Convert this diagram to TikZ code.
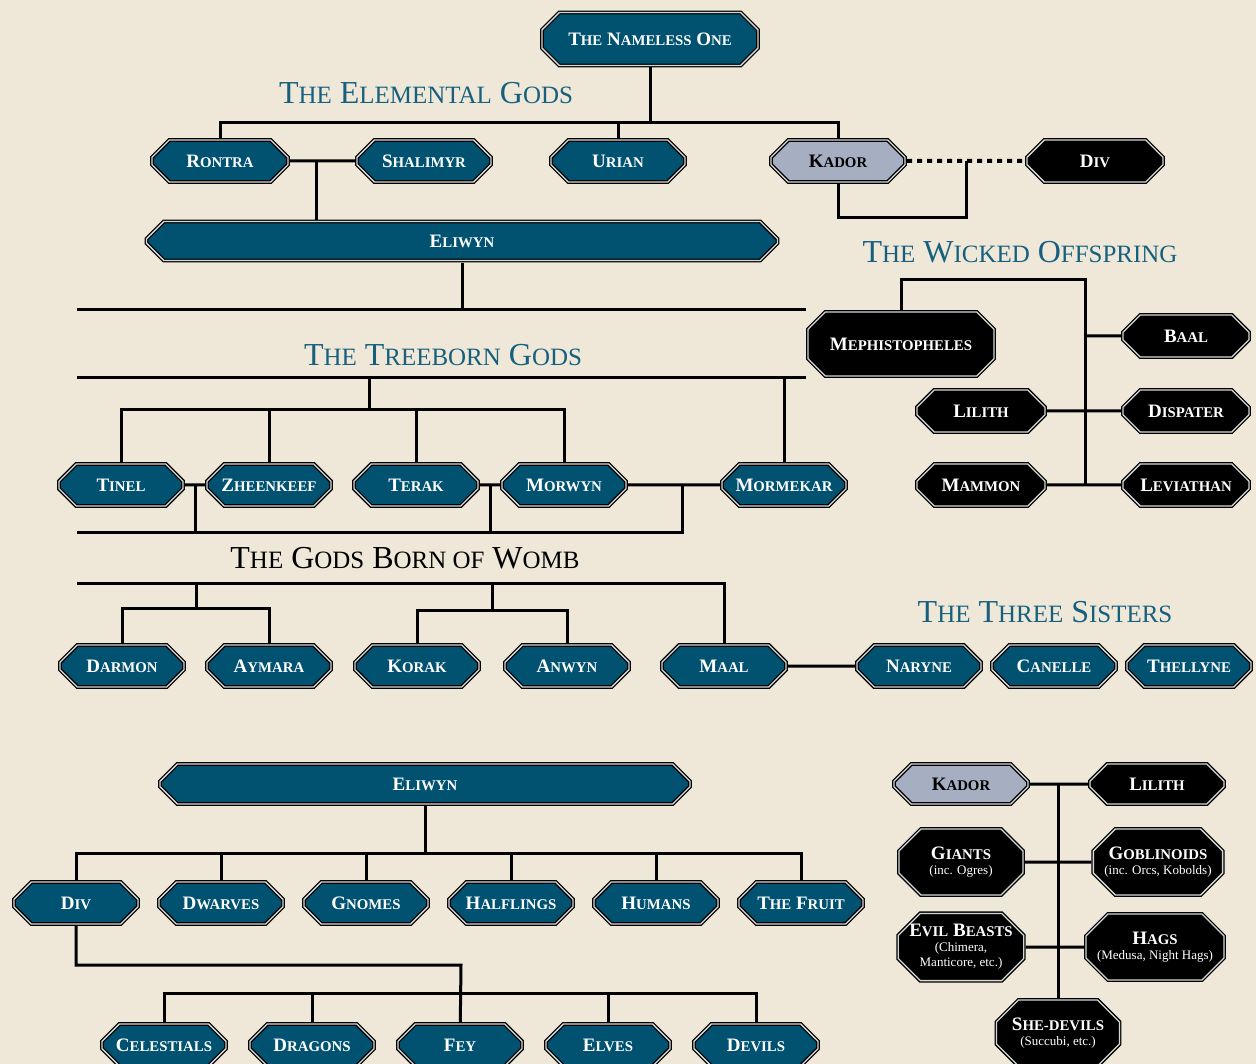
\documentclass[tikz,border=0pt]{standalone}
\usepackage{fontspec}
\setmainfont{Liberation Serif}
\usetikzlibrary{shapes.misc,positioning}

\definecolor{parchment}{RGB}{239,232,217}
\definecolor{godteal}{RGB}{0,82,112}
\definecolor{godgray}{RGB}{166,175,193}
\definecolor{ringlight}{RGB}{212,217,216}
\definecolor{titleteal}{RGB}{22,96,126}

% fake small caps: the rest of a word a bit smaller
\makeatletter
\newcommand{\smc}[1]{{\dimen0=\f@size pt\dimen0=0.78\dimen0\fontsize{\dimen0}{\dimen0}\selectfont#1}}
\makeatother
\newcommand{\subline}[1]{\\[-1pt]{\normalfont\fontsize{13}{14}\selectfont#1}}

\pgfdeclarelayer{paper}
\pgfdeclarelayer{edges}
\pgfsetlayers{paper,edges,main}

\tikzset{
  godbox/.style={chamfered rectangle, chamfered rectangle sep=11pt, inner sep=0pt,
    outer sep=2pt, minimum width=124pt, minimum height=42pt, fill=godteal, draw=black,
    line width=1.3pt, double=ringlight, double distance=1.3pt,
    text=white, align=center, font=\bfseries\fontsize{19}{16}\selectfont},
  fiendbox/.style={godbox, fill=black},
  kadorbox/.style={godbox, fill=godgray, text=black},
  heading/.style={text=titleteal, inner sep=0pt, font=\fontsize{32}{34}\selectfont},
  bond/.style={line width=3pt},
  pact/.style={line width=4pt, dash pattern=on 5pt off 5pt},
}

\begin{document}
\begin{tikzpicture}[x=1pt,y=-1pt]
  \useasboundingbox (0,0) rectangle (1256,1064);
  \begin{pgfonlayer}{paper}
    \fill[parchment] (0,0) rectangle (1256,1064);
  \end{pgfonlayer}

  % the elemental gods
  \node[godbox, minimum width=216pt, minimum height=53pt] (nameless) at (650,39) {T\smc{HE} N\smc{AMELESS} O\smc{NE}};
  \node[heading] (elementaltitle) at (426,93) {T\smc{HE} E\smc{LEMENTAL} G\smc{ODS}};
  \node[godbox, minimum width=136pt] (rontra) at (220,161) {R\smc{ONTRA}};
  \node[godbox, minimum width=134pt] (shalimyr) at (424,161) {S\smc{HALIMYR}};
  \node[godbox, minimum width=134pt] (urian) at (618,161) {U\smc{RIAN}};
  \node[kadorbox, minimum width=134pt] (kador) at (838,161) {K\smc{ADOR}};
  \node[fiendbox, minimum width=136pt] (div) at (1095,161) {D\smc{IV}};
  \node[godbox, minimum width=631pt, minimum height=39pt] (eliwyn) at (462,241) {E\smc{LIWYN}};

  % the wicked offspring
  \node[heading] (wickedtitle) at (1020,252) {T\smc{HE} W\smc{ICKED} O\smc{FFSPRING}};
  \node[fiendbox, minimum width=186pt, minimum height=64pt] (meph) at (901,344) {M\smc{EPHISTOPHELES}};
  \node[fiendbox, minimum width=126pt] (baal) at (1186,336) {B\smc{AAL}};
  \node[fiendbox, minimum width=128pt] (lilith) at (981,411) {L\smc{ILITH}};
  \node[fiendbox, minimum width=126pt] (dispater) at (1186,411) {D\smc{ISPATER}};
  \node[fiendbox, minimum width=128pt] (mammon) at (981,485) {M\smc{AMMON}};
  \node[fiendbox, minimum width=126pt] (leviathan) at (1186,485) {L\smc{EVIATHAN}};

  % the treeborn gods
  \node[heading] (treebornitle) at (443,355) {T\smc{HE} T\smc{REEBORN} G\smc{ODS}};
  \node[godbox] (tinel) at (121,485) {T\smc{INEL}};
  \node[godbox, right=20pt of tinel] (zheenkeef) {Z\smc{HEENKEEF}};
  \node[godbox, right=19pt of zheenkeef] (terak) {T\smc{ERAK}};
  \node[godbox, right=20pt of terak] (morwyn) {M\smc{ORWYN}};
  \node[godbox, right=92pt of morwyn] (mormekar) {M\smc{ORMEKAR}};

  % the gods born of womb
  \node[heading, text=black] (wombtitle) at (405,558) {T\smc{HE} G\smc{ODS} B\smc{ORN OF} W\smc{OMB}};
  \node[godbox] (darmon) at (122,666) {D\smc{ARMON}};
  \node[godbox, right=19pt of darmon] (aymara) {A\smc{YMARA}};
  \node[godbox, right=20pt of aymara] (korak) {K\smc{ORAK}};
  \node[godbox, right=22pt of korak] (anwyn) {A\smc{NWYN}};
  \node[godbox, right=29pt of anwyn] (maal) {M\smc{AAL}};

  % the three sisters
  \node[heading] (sisterstitle) at (1045,612) {T\smc{HE} T\smc{HREE} S\smc{ISTERS}};
  \node[godbox] (naryne) at (919,666) {N\smc{ARYNE}};
  \node[godbox, right=7pt of naryne] (canelle) {C\smc{ANELLE}};
  \node[godbox, right=7pt of canelle] (thellyne) {T\smc{HELLYNE}};

  % children of eliwyn
  \node[godbox, minimum width=530pt, minimum height=40pt] (eliwynkin) at (425,784) {E\smc{LIWYN}};
  \node[godbox] (divkin) at (76,903) {D\smc{IV}};
  \node[godbox, right=17pt of divkin] (dwarves) {D\smc{WARVES}};
  \node[godbox, right=17pt of dwarves] (gnomes) {G\smc{NOMES}};
  \node[godbox, right=17pt of gnomes] (halflings) {H\smc{ALFLINGS}};
  \node[godbox, right=17pt of halflings] (humans) {H\smc{UMANS}};
  \node[godbox, right=17pt of humans] (fruit) {T\smc{HE} F\smc{RUIT}};
  \node[godbox] (celestials) at (164,1045) {C\smc{ELESTIALS}};
  \node[godbox, right=20pt of celestials] (dragons) {D\smc{RAGONS}};
  \node[godbox, right=20pt of dragons] (fey) {F\smc{EY}};
  \node[godbox, right=20pt of fey] (elves) {E\smc{LVES}};
  \node[godbox, right=20pt of elves] (devils) {D\smc{EVILS}};

  % children of kador and lilith
  \node[kadorbox, minimum width=134pt, minimum height=40pt] (kadorkin) at (961,784) {K\smc{ADOR}};
  \node[fiendbox, minimum width=134pt, minimum height=40pt] (lilithkin) at (1157,784) {L\smc{ILITH}};
  \node[fiendbox, minimum height=66pt] (giants) at (961,862) {G\smc{IANTS}\subline{(inc. Ogres)}};
  \node[fiendbox, minimum width=126pt, minimum height=66pt] (goblinoids) at (1158,862) {G\smc{OBLINOIDS}\subline{(inc. Orcs, Kobolds)}};
  \node[fiendbox, minimum height=66pt] (beasts) at (961,947) {E\smc{VIL} B\smc{EASTS}\subline{(Chimera,}\subline{Manticore, etc.)}};
  \node[fiendbox, minimum width=126pt, minimum height=66pt] (hags) at (1155,947) {H\smc{AGS}\subline{(Medusa, Night Hags)}};
  \node[fiendbox, minimum width=123pt, minimum height=66pt] (shedevils) at (1058,1033) {S\smc{HE-DEVILS}\subline{(Succubi, etc.)}};

  % junctions
  \coordinate (elembar) at (650,123);
  \coordinate (elbond) at (316,161);
  \coordinate (pactknot) at (966,161);
  \coordinate (pactfoot) at (966,218);
  \coordinate (genbar) at (77,310);
  \coordinate (wickedhub) at (1085,280);
  \coordinate (treebar) at (77,378);
  \coordinate (treestem) at (369,378);
  \coordinate (treeknot) at (369,410);
  \coordinate (tinelknot) at (195,485);
  \coordinate (morwynknot) at (490,485);
  \coordinate (mormknot) at (682,485);
  \coordinate (wombbar) at (77,532);
  \coordinate (wombtop) at (77,583);
  \coordinate (darknot) at (196,608);
  \coordinate (korknot) at (492,610);
  \coordinate (kinbar) at (424,853);
  \coordinate (divbend) at (461,965);
  \coordinate (brood) at (461,993);
  \coordinate (spawn) at (1058,784);

  \begin{pgfonlayer}{edges}
    \draw[bond] (nameless) -- (elembar);
    \draw[bond] (rontra) |- (elembar) -| (kador);
    \draw[bond] (urian) -- (urian |- elembar);
    \draw[bond] (rontra) -- (shalimyr);
    \draw[bond] (elbond) -- (elbond |- eliwyn);
    \draw[pact] (kador) -- (div);
    \draw[bond] (kador) |- (pactfoot) -- (pactknot);
    \draw[bond] (eliwyn) -- (eliwyn |- genbar);
    \draw[bond] (genbar) -- (meph.west |- genbar);
    \draw[bond] (meph) |- (wickedhub) -- (wickedhub |- mammon);
    \draw[bond] (baal) -- (baal -| wickedhub);
    \draw[bond] (lilith) -- (dispater);
    \draw[bond] (mammon) -- (leviathan);
    \draw[bond] (treebar) -- (meph.west |- treebar);
    \draw[bond] (treestem) -- (treeknot);
    \draw[bond] (tinel) |- (treeknot) -| (morwyn);
    \draw[bond] (zheenkeef) -- (zheenkeef |- treeknot);
    \draw[bond] (terak) -- (terak |- treeknot);
    \draw[bond] (mormekar) -- (mormekar |- treebar);
    \draw[bond] (tinel) -- (zheenkeef);
    \draw[bond] (terak) -- (mormekar);
    \draw[bond] (tinelknot) |- (wombbar);
    \draw[bond] (wombbar) -| (mormknot);
    \draw[bond] (morwynknot) -- (morwynknot |- wombbar);
    \draw[bond] (wombtop) -| (maal);
    \draw[bond] (darknot |- wombtop) -- (darknot);
    \draw[bond] (darmon) |- (darknot) -| (aymara);
    \draw[bond] (korknot |- wombtop) -- (korknot);
    \draw[bond] (korak) |- (korknot) -| (anwyn);
    \draw[bond] (maal) -- (naryne);
    \draw[bond] (eliwynkin) -- (eliwynkin |- kinbar);
    \draw[bond] (divkin) |- (kinbar) -| (fruit);
    \foreach \kin in {dwarves,gnomes,halflings,humans}
      \draw[bond] (\kin) -- (\kin |- kinbar);
    \draw[bond] (divkin) |- (divbend) -- (fey);
    \draw[bond] (celestials) |- (brood) -| (devils);
    \foreach \kin in {dragons,elves}
      \draw[bond] (\kin) -- (\kin |- brood);
    \draw[bond] (kadorkin) -- (lilithkin);
    \draw[bond] (spawn) -- (shedevils);
    \draw[bond] (giants) -- (goblinoids);
    \draw[bond] (beasts) -- (hags);
  \end{pgfonlayer}
\end{tikzpicture}
\end{document}
